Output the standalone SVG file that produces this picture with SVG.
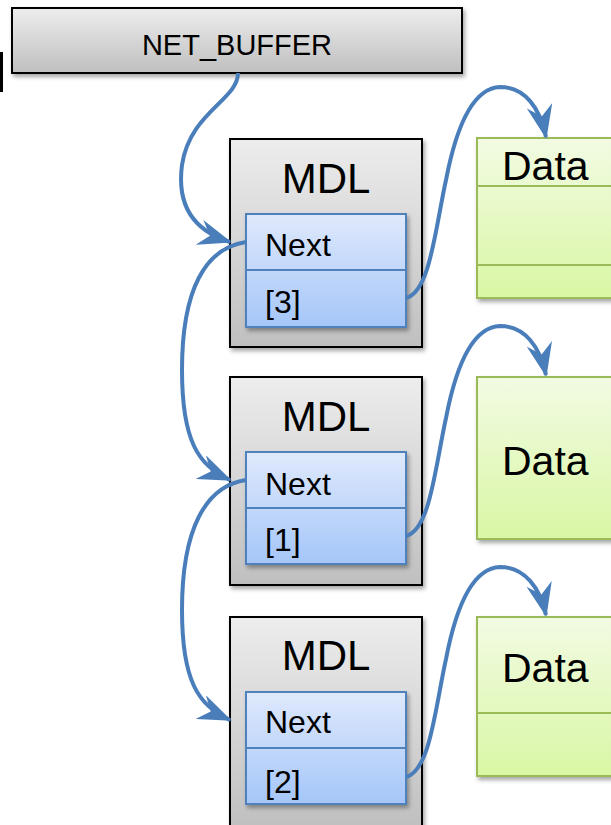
<svg xmlns="http://www.w3.org/2000/svg" width="611" height="825" viewBox="0 0 611 825">
<defs>
<linearGradient id="gGray" x1="0" y1="0" x2="0" y2="1"><stop offset="0" stop-color="#ededed"/><stop offset="1" stop-color="#bfbfbf"/></linearGradient>
<linearGradient id="gBlue" x1="0" y1="0" x2="0" y2="1"><stop offset="0" stop-color="#dfe9fc"/><stop offset="1" stop-color="#a5c6f8"/></linearGradient>
<linearGradient id="gGreen" x1="0" y1="0" x2="0" y2="1"><stop offset="0" stop-color="#f2fbe3"/><stop offset="1" stop-color="#d9f7a4"/></linearGradient>
<filter id="sh" x="-10%" y="-10%" width="130%" height="130%"><feDropShadow dx="2" dy="3" stdDeviation="2" flood-color="#000" flood-opacity="0.35"/></filter>
<marker id="arr" viewBox="0 0 34 26" refX="32" refY="13" markerWidth="34" markerHeight="26" markerUnits="userSpaceOnUse" orient="auto">
<path d="M34,13 L0,0 L11,13 L0,26 Z" fill="#4a7ebb"/>
</marker>
<style>
.gray{fill:url(#gGray);stroke:#000;stroke-width:2}
.blue{fill:url(#gBlue);stroke:#4f81bd;stroke-width:2}
.green{fill:url(#gGreen);stroke:#9bbb59;stroke-width:2}
.t{font-family:"Liberation Sans",Arial,sans-serif;fill:#000}
.con{fill:none;stroke:#4a7ebb;stroke-width:4;marker-end:url(#arr)}
.line{stroke:#4f81bd;stroke-width:2}
.gline{stroke:#9bbb59;stroke-width:2}
</style>
</defs>
<rect x="0" y="52" width="3" height="40" fill="#000"/>
<g id="net_buffer">
<rect class="gray" x="12" y="8" width="450" height="65" filter="url(#sh)"/>
<text class="t" x="237" y="55" font-size="29" text-anchor="middle">NET_BUFFER</text>
</g>
<g id="mdl1">
<rect class="gray" x="230" y="139" width="192" height="208" filter="url(#sh)"/>
<text class="t" x="326" y="193" font-size="42" text-anchor="middle">MDL</text>
<rect class="blue" x="246" y="214" width="160" height="113" filter="url(#sh)"/>
<line class="line" x1="246" y1="270" x2="406" y2="270"/>
<text class="t" x="265" y="256" font-size="32">Next</text>
<text class="t" x="265" y="313" font-size="32">[3]</text>
</g>
<g id="mdl2">
<rect class="gray" x="230" y="377" width="192" height="208" filter="url(#sh)"/>
<text class="t" x="326" y="431" font-size="42" text-anchor="middle">MDL</text>
<rect class="blue" x="246" y="452" width="160" height="112" filter="url(#sh)"/>
<line class="line" x1="246" y1="508" x2="406" y2="508"/>
<text class="t" x="265" y="495" font-size="32">Next</text>
<text class="t" x="265" y="551" font-size="32">[1]</text>
</g>
<g id="mdl3">
<rect class="gray" x="230" y="617" width="192" height="212" filter="url(#sh)"/>
<text class="t" x="326" y="670" font-size="42" text-anchor="middle">MDL</text>
<rect class="blue" x="246" y="692" width="160" height="112" filter="url(#sh)"/>
<line class="line" x1="246" y1="748" x2="406" y2="748"/>
<text class="t" x="265" y="733" font-size="32">Next</text>
<text class="t" x="265" y="793" font-size="32">[2]</text>
</g>
<g id="data1">
<rect class="green" x="477" y="138" width="150" height="160" filter="url(#sh)"/>
<line class="gline" x1="477" y1="186" x2="611" y2="186"/>
<line class="gline" x1="477" y1="265" x2="611" y2="265"/>
<text class="t" x="502" y="180" font-size="41">Data</text>
</g>
<g id="data2">
<rect class="green" x="477" y="377" width="150" height="162" filter="url(#sh)"/>
<text class="t" x="502" y="475" font-size="41">Data</text>
</g>
<g id="data3">
<rect class="green" x="477" y="617" width="150" height="159" filter="url(#sh)"/>
<line class="gline" x1="477" y1="713" x2="611" y2="713"/>
<text class="t" x="502" y="682" font-size="41">Data</text>
</g>
<g id="connectors">
<path class="con" d="M238,73 C238,100 190,112 182,165 C176,210 198,232 230,242"/>
<path class="con" d="M246,242 C205,248 182,290 182,370 C182,440 198,466 230,480"/>
<path class="con" d="M246,480 C205,486 182,530 182,610 C182,680 198,706 230,720"/>
<path class="con" d="M406,298 C430,292 435,230 446,180 C456,128 472,88 500,87 C525,87 540,108 546,137"/>
<path class="con" d="M406,536 C430,530 435,468 446,418 C456,366 472,327 500,326 C525,326 540,347 546,375"/>
<path class="con" d="M406,777 C430,771 435,709 446,659 C456,607 472,568 500,567 C525,567 540,588 546,615"/>
</g>
</svg>
